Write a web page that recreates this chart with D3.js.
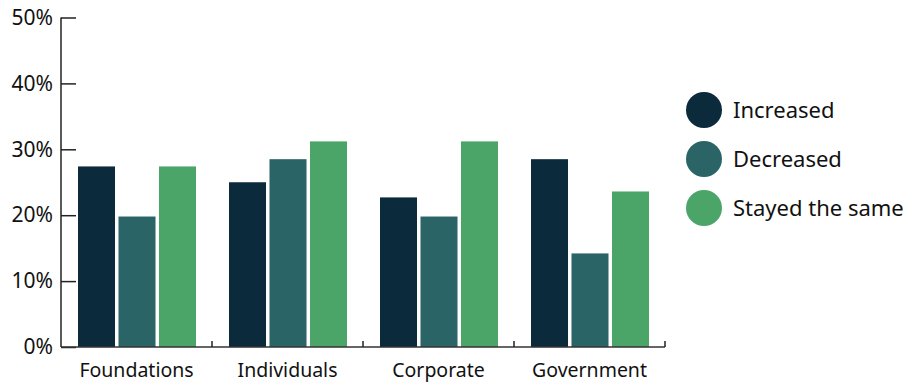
<!DOCTYPE html>
<html>
<head>
<meta charset="utf-8">
<script src="https://cdn.jsdelivr.net/npm/d3@7"></script>
<style>
  body { margin: 0; background: #fff; }
  svg { display: block; }
  svg text { font-family: "Noto Sans", sans-serif; }
</style>
</head>
<body>
<svg id="chart" width="922" height="383"></svg>
<script>
(function () {
    "use strict";

    var categories = ["Foundations", "Individuals", "Corporate", "Government"];
    var seriesNames = ["Increased", "Decreased", "Stayed the same"];
    var increased = [27.4, 25.0, 22.7, 28.5];
    var decreased = [19.8, 28.5, 19.8, 14.2];
    var stayedSame = [27.4, 31.2, 31.2, 23.6];
    var yTicks = [0, 10, 20, 30, 40, 50];
    var colors = ["#0b2a3c", "#2b6466", "#4ba568"];

    var series = [increased, decreased, stayedSame];
    var dim = { left: 61, right: 665, top: 17.5, bottom: 347 };

    var svg = d3.select("#chart");

    var x0 = d3.scaleBand().domain(categories).range([dim.left, dim.right]).padding(0);
    var x1 = d3.scaleBand().domain(d3.range(seriesNames.length)).range([17, 135]).paddingInner(0.086);
    var y = d3.scaleLinear().domain([0, 50]).range([dim.bottom, dim.top]);

    // bars
    var groups = svg.selectAll("g.cat").data(categories).enter().append("g")
        .attr("class", "cat")
        .attr("transform", function (d) { return "translate(" + x0(d) + ",0)"; });
    groups.selectAll("rect").data(function (d, i) {
        return series.map(function (s, j) { return { k: j, v: s[i] }; });
    }).enter().append("rect")
        .attr("x", function (d) { return x1(d.k); })
        .attr("width", x1.bandwidth())
        .attr("y", function (d) { return y(d.v); })
        .attr("height", function (d) { return y(0) - y(d.v); })
        .attr("fill", function (d) { return colors[d.k]; });

    // y axis
    var yaxis = d3.axisLeft(y).tickValues(yTicks).tickSize(-15).tickPadding(8)
        .tickFormat(function (d) { return d + "%"; });
    var gy = svg.append("g").attr("transform", "translate(" + dim.left + ",0)").call(yaxis);
    gy.select(".domain").remove();
    gy.selectAll(".tick line").attr("stroke", "#222").attr("stroke-width", 1.5);
    gy.selectAll(".tick text").attr("fill", "#111").style("font-size", "21px");
    svg.append("line")
        .attr("x1", dim.left).attr("x2", dim.left)
        .attr("y1", y(50)).attr("y2", y(0))
        .attr("stroke", "#222").attr("stroke-width", 1.5);

    // x axis
    var xaxis = d3.axisBottom(x0).tickSize(0).tickPadding(16);
    var gx = svg.append("g").attr("transform", "translate(0," + dim.bottom + ")").call(xaxis);
    gx.select(".domain").remove();
    gx.selectAll(".tick text").attr("fill", "#111").style("font-size", "19.5px");
    svg.append("line")
        .attr("x1", dim.left).attr("x2", dim.right)
        .attr("y1", dim.bottom).attr("y2", dim.bottom)
        .attr("stroke", "#333").attr("stroke-width", 1.5);
    svg.selectAll("line.sep").data(categories).enter().append("line")
        .attr("class", "sep")
        .attr("x1", function (d) { return x0(d) + x0.bandwidth(); })
        .attr("x2", function (d) { return x0(d) + x0.bandwidth(); })
        .attr("y1", dim.bottom).attr("y2", dim.bottom - 6)
        .attr("stroke", "#222").attr("stroke-width", 1.5);

    // legend
    var legend = svg.selectAll("g.legend").data(seriesNames).enter().append("g")
        .attr("class", "legend")
        .attr("transform", function (d, i) { return "translate(704," + (110 + i * 49) + ")"; });
    legend.append("circle").attr("r", 18).attr("fill", function (d, i) { return colors[i]; });
    legend.append("text")
        .attr("x", 29)
        .attr("dy", "0.35em")
        .attr("fill", "#111")
        .style("font-size", "22px")
        .text(function (d) { return d; });
})();
</script>
</body>
</html>
